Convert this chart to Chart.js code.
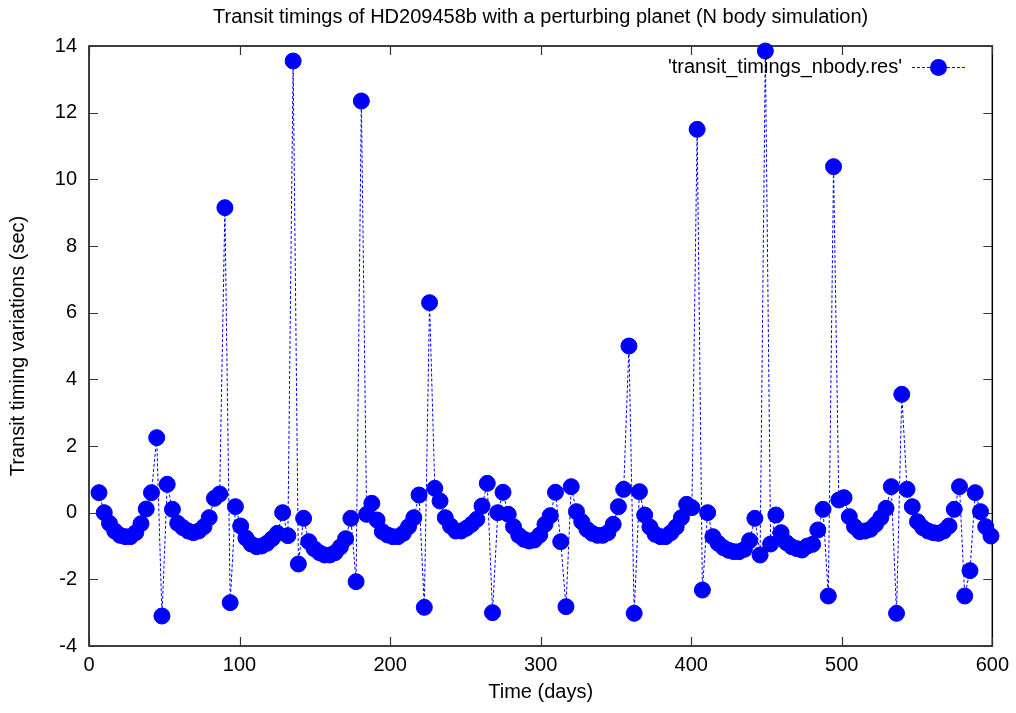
<!DOCTYPE html>
<html><head><meta charset="utf-8">
<script src="https://cdn.jsdelivr.net/npm/chart.js@4.4.1/dist/chart.umd.min.js"></script>
<style>html,body{margin:0;padding:0;background:#fff}#wrap{width:1016px;height:713px}canvas{display:block}</style>
</head><body><div id="wrap"><canvas id="c" width="1016" height="713"></canvas></div>
<script>
const titleText = 'Transit timings of HD209458b with a perturbing planet (N body simulation)';
const xLabel = 'Time (days)';
const yLabel = 'Transit timing variations (sec)';
const seriesName = "'transit_timings_nbody.res'";
const xTicks = [0, 100, 200, 300, 400, 500, 600];
const yTicks = [-4, -2, 0, 2, 4, 6, 8, 10, 12, 14];

const times = [
6.64,10.13,13.61,17.10,20.58,24.07,27.55,31.04,34.52,38.01,
41.49,44.98,48.46,51.95,55.43,58.92,62.40,65.89,69.37,72.86,
76.34,79.83,83.31,86.80,90.28,93.77,97.25,100.74,104.22,107.71,
111.19,114.68,118.16,121.65,125.13,128.62,132.10,135.59,139.07,142.56,
146.04,149.53,153.01,156.50,159.98,163.47,166.95,170.44,173.92,177.41,
180.90,184.38,187.87,191.35,194.84,198.32,201.81,205.29,208.78,212.26,
215.75,219.23,222.72,226.20,229.69,233.17,236.66,240.14,243.63,247.11,
250.60,254.08,257.57,261.05,264.54,268.02,271.51,274.99,278.48,281.96,
285.45,288.93,292.42,295.90,299.39,302.87,306.36,309.84,313.33,316.81,
320.30,323.78,327.27,330.75,334.24,337.72,341.21,344.69,348.18,351.66,
355.15,358.64,362.12,365.61,369.09,372.58,376.06,379.55,383.03,386.52,
390.00,393.49,396.97,400.46,403.94,407.43,410.91,414.40,417.88,421.37,
424.85,428.34,431.82,435.31,438.79,442.28,445.76,449.25,452.73,456.22,
459.70,463.19,466.67,470.16,473.64,477.13,480.61,484.10,487.58,491.07,
494.55,498.04,501.52,505.01,508.49,511.98,515.46,518.95,522.43,525.92,
529.41,532.89,536.38,539.86,543.35,546.83,550.32,553.80,557.29,560.77,
564.26,567.74,571.23,574.71,578.20,581.68,585.17,588.65,592.14,595.62,
599.11
];

const ttv = [
0.6,0.0,-0.32,-0.55,-0.68,-0.72,-0.72,-0.6,-0.33,0.11,
0.6,2.25,-3.1,0.85,0.1,-0.32,-0.45,-0.55,-0.6,-0.55,
-0.42,-0.15,0.43,0.56,9.15,-2.7,0.18,-0.4,-0.76,-0.94,
-1.02,-1.0,-0.92,-0.78,-0.62,0.0,-0.69,13.55,-1.54,-0.17,
-0.87,-1.08,-1.2,-1.27,-1.27,-1.2,-1.03,-0.78,-0.17,-2.07,
12.35,-0.05,0.28,-0.22,-0.57,-0.67,-0.72,-0.72,-0.62,-0.42,
-0.15,0.53,-2.84,6.3,0.73,0.35,-0.15,-0.4,-0.55,-0.55,
-0.47,-0.35,-0.2,0.2,0.88,-3.0,0.0,0.61,-0.05,-0.42,
-0.68,-0.8,-0.85,-0.82,-0.67,-0.35,-0.09,0.61,-0.87,-2.82,
0.78,0.03,-0.27,-0.5,-0.62,-0.68,-0.68,-0.6,-0.35,0.18,
0.7,5.0,-3.02,0.63,-0.07,-0.43,-0.65,-0.72,-0.72,-0.6,
-0.43,-0.15,0.25,0.15,11.5,-2.32,0.0,-0.72,-0.92,-1.05,
-1.13,-1.17,-1.17,-1.1,-0.84,-0.17,-1.27,13.85,-0.94,-0.07,
-0.6,-0.9,-1.02,-1.08,-1.12,-1.0,-0.95,-0.52,0.1,-2.5,
10.38,0.38,0.45,-0.12,-0.42,-0.57,-0.55,-0.5,-0.35,-0.15,
0.13,0.78,-3.02,3.55,0.7,0.18,-0.27,-0.45,-0.55,-0.6,
-0.62,-0.55,-0.4,0.1,0.78,-2.5,-1.74,0.6,0.03,-0.42,
-0.7
];

const FONT = '"Liberation Sans", Arial, Helvetica, sans-serif';
const FS = 20;
const BLUE = '#0000ff';

const points = times.map((t, i) => ({x: t, y: ttv[i]}));

const framePlugin = {
  id: 'gnuframe',
  beforeDatasetsDraw(chart) {
    const {ctx, chartArea: a, scales: {x, y}} = chart;
    ctx.save();
    ctx.strokeStyle = '#000';
    ctx.lineWidth = 1.5;
    ctx.strokeRect(a.left, a.top, a.right - a.left, a.bottom - a.top);
    ctx.strokeStyle = '#333';
    ctx.lineWidth = 1.2;
    ctx.beginPath();
    const L = 9;
    xTicks.forEach(v => {
      const px = Math.round(x.getPixelForValue(v)) + 0.5;
      ctx.moveTo(px, a.bottom); ctx.lineTo(px, a.bottom - L);
      ctx.moveTo(px, a.top); ctx.lineTo(px, a.top + L);
    });
    yTicks.forEach(v => {
      const py = Math.round(y.getPixelForValue(v)) + 0.5;
      ctx.moveTo(a.left, py); ctx.lineTo(a.left + L, py);
      ctx.moveTo(a.right, py); ctx.lineTo(a.right - L, py);
    });
    ctx.stroke();
    ctx.restore();
  },
  afterDraw(chart) {
    const {ctx} = chart;
    ctx.save();
    ctx.font = FS + 'px ' + FONT;
    ctx.fillStyle = '#000';
    ctx.textAlign = 'right';
    ctx.textBaseline = 'middle';
    ctx.fillText(seriesName, 902, 67);
    ctx.strokeStyle = BLUE;
    ctx.lineWidth = 1;
    ctx.setLineDash([3, 2]);
    ctx.beginPath();
    ctx.moveTo(912, 67.5); ctx.lineTo(966, 67.5);
    ctx.stroke();
    ctx.setLineDash([]);
    ctx.fillStyle = BLUE;
    ctx.beginPath();
    ctx.arc(938.5, 67.5, 8.5, 0, Math.PI * 2);
    ctx.fill();
    ctx.restore();
  }
};

new Chart(document.getElementById('c'), {
  type: 'line',
  data: {
    datasets: [{
      label: seriesName,
      data: points,
      borderColor: BLUE,
      borderWidth: 1,
      borderDash: [3, 2],
      backgroundColor: BLUE,
      pointBackgroundColor: BLUE,
      pointBorderColor: BLUE,
      pointBorderWidth: 1,
      pointRadius: 8,
      pointHoverRadius: 8,
      tension: 0,
      fill: false,
      clip: false
    }]
  },
  options: {
    responsive: false,
    animation: false,
    devicePixelRatio: 1,
    layout: {padding: {left: 0, right: 23, top: 0, bottom: 0}},
    plugins: {
      legend: {display: false},
      tooltip: {enabled: false},
      title: {
        display: true,
        fullSize: false,
        text: titleText,
        color: '#000',
        font: {family: FONT, size: FS, weight: 'normal'},
        padding: {top: 5, bottom: 17}
      }
    },
    scales: {
      x: {
        type: 'linear',
        min: 0, max: 600,
        afterBuildTicks: s => { s.ticks = xTicks.map(v => ({value: v})); },
        afterFit: s => { s.height = 67; },
        grid: {display: false, drawTicks: false},
        border: {display: false},
        ticks: {color: '#000', font: {family: FONT, size: FS}, padding: 7, maxRotation: 0},
        title: {display: true, text: xLabel, color: '#000', font: {family: FONT, size: FS}, padding: {top: 0, bottom: 9}}
      },
      y: {
        type: 'linear',
        min: -4, max: 14,
        afterBuildTicks: s => { s.ticks = yTicks.map(v => ({value: v})); },
        afterFit: s => { s.width = 89; },
        grid: {display: false, drawTicks: false},
        border: {display: false},
        ticks: {color: '#000', font: {family: FONT, size: FS}, padding: 12},
        title: {display: true, text: yLabel, color: '#000', font: {family: FONT, size: FS}, padding: {top: 6, bottom: 0}}
      }
    }
  },
  plugins: [framePlugin]
});
</script>
</body></html>
